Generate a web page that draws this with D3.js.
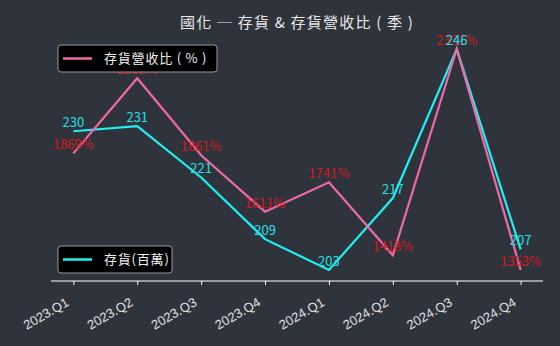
<!DOCTYPE html>
<html>
<head>
<meta charset="utf-8">
<script src="https://cdn.jsdelivr.net/npm/d3@7"></script>
<style>
  body { margin: 0; background: #2f343c; }
  svg { display: block; font-family: "Noto Sans CJK TC", "Noto Sans", sans-serif; }
</style>
</head>
<body>
<svg id="chart"></svg>
<script>
// quarters + values
var quarters = ["2023.Q1", "2023.Q2", "2023.Q3", "2023.Q4", "2024.Q1", "2024.Q2", "2024.Q3", "2024.Q4"];
var inventory = [230, 231, 221, 209, 203, 217, 246, 207];
var ratio = [1869, 2202, 1861, 1611, 1741, 1418, 2331, 1353];

var width = 560;
var height = 346;
var plotLeft = 51, plotRight = 543, plotTop = 38, plotBottom = 281;

var svg = d3.select("#chart")
    .attr("width", width)
    .attr("height", height);

svg.append("rect")
    .attr("width", width)
    .attr("height", height)
    .attr("fill", "#2f343c");

var xScale = d3.scalePoint()
    .domain(quarters)
    .range([plotLeft, plotRight])
    .padding(0.35);

function padded(vals) {
  var lo = d3.min(vals), hi = d3.max(vals), m = (hi - lo) * 0.05;
  return [lo - m, hi + m];
}

var yInv = d3.scaleLinear().domain(padded(inventory)).range([plotBottom, plotTop]);
var yRatio = d3.scaleLinear().domain(padded(ratio)).range([plotBottom, plotTop]);

// title
svg.append("text")
    .attr("x", (plotLeft + plotRight) / 2)
    .attr("y", 28)
    .attr("text-anchor", "middle")
    .attr("fill", "#e8e8e8")
    .style("font-size", "15px")
    .style("letter-spacing", "1.2px")
    .text("國化 ─ 存貨 & 存貨營收比 ( 季 )");

// x axis
var xAxis = d3.axisBottom(xScale).tickSize(4).tickSizeOuter(0);
var gx = svg.append("g")
    .attr("transform", "translate(0," + plotBottom + ")")
    .call(xAxis);
gx.select(".domain").attr("stroke", "#ffffff").attr("stroke-width", 1.2)
    .attr("d", "M" + plotLeft + ",0H" + plotRight);
gx.selectAll(".tick line").attr("stroke", "#ffffff");
gx.selectAll(".tick text")
    .attr("fill", "#e0e0e0")
    .style("font-size", "13px")
    .attr("text-anchor", "end")
    .attr("x", 0)
    .attr("y", 0)
    .attr("dy", null)
    .attr("transform", "translate(-4,24) rotate(-30)");

var lineInv = d3.line()
    .x(function(d, i) { return xScale(quarters[i]); })
    .y(function(d) { return yInv(d); });
var lineRatio = d3.line()
    .x(function(d, i) { return xScale(quarters[i]); })
    .y(function(d) { return yRatio(d); });

svg.append("path")
    .datum(inventory)
    .attr("d", lineInv)
    .attr("fill", "none")
    .attr("stroke", "#1ff0f0")
    .attr("stroke-width", 2.2);

svg.append("path")
    .datum(ratio)
    .attr("d", lineRatio)
    .attr("fill", "none")
    .attr("stroke", "#f06aa8")
    .attr("stroke-width", 2.2);

// labels
svg.append("g").selectAll("text")
    .data(ratio)
    .join("text")
    .attr("x", function(d, i) { return xScale(quarters[i]); })
    .attr("y", function(d) { return yRatio(d) - 4; })
    .attr("text-anchor", "middle")
    .attr("fill", "#d41820")
    .style("font-size", "13px")
    .text(function(d) { return d + "%"; });

svg.append("g").selectAll("text")
    .data(inventory)
    .join("text")
    .attr("x", function(d, i) { return xScale(quarters[i]); })
    .attr("y", function(d) { return yInv(d) - 4; })
    .attr("text-anchor", "middle")
    .attr("fill", "#22e0e8")
    .style("font-size", "13px")
    .text(function(d) { return d; });

// legends
function legend(x, y, w, color, label) {
  var g = svg.append("g").attr("transform", "translate(" + x + "," + y + ")");
  g.append("rect")
      .attr("width", w)
      .attr("height", 27)
      .attr("rx", 3)
      .attr("fill", "#000000")
      .attr("stroke", "#9a9a9a")
      .attr("stroke-width", 1);
  g.append("line")
      .attr("x1", 5).attr("x2", 34)
      .attr("y1", 13.5).attr("y2", 13.5)
      .attr("stroke", color)
      .attr("stroke-width", 2.5);
  g.append("text")
      .attr("x", 46)
      .attr("y", 18)
      .attr("fill", "#f0f0f0")
      .style("font-size", "13px")
      .style("letter-spacing", "0.8px")
      .text(label);
}
legend(58, 45, 159, "#f06aa8", "存貨營收比 ( % )");
legend(58, 246, 114, "#1ff0f0", "存貨(百萬)");
</script>
</body>
</html>
